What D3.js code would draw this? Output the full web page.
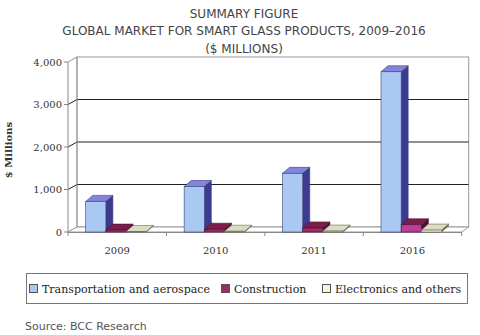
<!DOCTYPE html>
<html><head><meta charset="utf-8">
<script src="https://cdn.jsdelivr.net/npm/d3@7/dist/d3.min.js"></script>
<style>body{margin:0;background:#fff}svg{display:block}</style>
</head><body><svg id="c" width="480" height="335"></svg>
<script>
const categories = ["2009","2010","2011","2016"];
const seriesNames = ["Transportation and aerospace","Construction","Electronics and others"];
const transportation = [720, 1070, 1380, 3770];
const construction = [45, 65, 95, 170];
const electronics = [12, 18, 22, 45];
const yTicks = [0,1000,2000,3000,4000];
const titleLines = ["SUMMARY FIGURE","GLOBAL MARKET FOR SMART GLASS PRODUCTS, 2009\u20132016","($ MILLIONS)"];
const values = [transportation, construction, electronics];

const colors = [
  {front:"#a9c9f2", top:"#8484dc", side:"#3b3b92", stroke:"#3a3a7a"},
  {front:"#9b2d62", top:"#7a1f4c", side:"#4e0f2e", stroke:"#4a1030"},
  {front:"#f4f4d6", top:"#dcdcc4", side:"#6c6c48", stroke:"#6a6a50"}
];
const frontColor2016 = "#c23c9c";

const svg = d3.select("#c");
const left = 68, right = 461.7, y0 = 232;
const dx = 9, dy = -5;   // wall depth offset
const bdx = 7, bdy = -6; // bar depth offset

const y = d3.scaleLinear().domain([0,4000]).range([y0, y0 - 170]);
const x0 = d3.scaleBand().domain(categories).range([left, right]).padding(0);
const bw = x0.bandwidth();
const x1 = d3.scaleBand().domain(d3.range(3)).range([bw*0.18, bw*0.795]).padding(0);

// Title
const tg = svg.append("g").attr("font-family","DejaVu Sans, Verdana, sans-serif").attr("font-size",12).attr("fill","#444").attr("text-anchor","middle");
titleLines.forEach((t,i)=>tg.append("text").attr("x",244).attr("y",17.5+i*17.5).text(t));

// back wall
const g = svg.append("g");
const bl = left+dx, br = right+dx-2;
g.append("rect").attr("x",bl).attr("y",y(4000)+dy).attr("width",br-bl).attr("height",y(0)-y(4000))
  .attr("fill","#fff").attr("stroke","#999").attr("stroke-width",1);
yTicks.forEach(t=>{
  if(t>0 && t<4000){
    g.append("line").attr("x1",bl).attr("x2",br).attr("y1",y(t)+dy).attr("y2",y(t)+dy).attr("stroke","#222").attr("stroke-width",1);
  }
  g.append("line").attr("x1",left).attr("x2",bl).attr("y1",y(t)).attr("y2",y(t)+dy).attr("stroke",t==0||t==4000?"#999":"#222").attr("stroke-width",1);
});
// floor
g.append("path").attr("d",`M${left},${y0}L${bl},${y0+dy}L${br},${y0+dy}L${right},${y0}Z`).attr("fill","#fff").attr("stroke","#999");
g.append("line").attr("x1",bl).attr("x2",bl).attr("y1",y(4000)+dy).attr("y2",y0+dy).attr("stroke","#999");
// front axis
g.append("line").attr("x1",left).attr("x2",left).attr("y1",y(4000)).attr("y2",y0).attr("stroke","#888");
g.append("line").attr("x1",left).attr("x2",right).attr("y1",y0+0.5).attr("y2",y0+0.5).attr("stroke","#888");
// y ticks
const ya = g.append("g").attr("font-family","DejaVu Serif, Georgia, serif").attr("font-size",10).attr("fill","#333");
yTicks.forEach(t=>{
  ya.append("line").attr("x1",left-4).attr("x2",left).attr("y1",y(t)).attr("y2",y(t)).attr("stroke","#888");
  ya.append("text").attr("x",left-6).attr("y",y(t)+3.5).attr("text-anchor","end").text(d3.format(",")(t));
});
// x ticks
d3.range(categories.length+1).forEach(i=>{
  const xx = left + i*bw;
  g.append("line").attr("x1",xx).attr("x2",xx).attr("y1",y0).attr("y2",y0+4).attr("stroke","#888");
});
// x labels
categories.forEach(c=>{
  g.append("text").attr("x",x0(c)+bw/2).attr("y",y0+22).attr("text-anchor","middle")
   .attr("font-family","DejaVu Serif, Georgia, serif").attr("font-size",10).attr("fill","#333").text(c);
});

// bars
const bars = svg.append("g");
categories.forEach((c,ci)=>{
  for(let s=0;s<3;s++){
    const v = values[s][ci];
    const xl = x0(c)+x1(s), w = x1.bandwidth();
    const yt = y(v), yb = y0;
    const col = colors[s];
    const front = (s==1 && c=="2016") ? frontColor2016 : col.front;
    bars.append("path").attr("d",`M${xl+w},${yt}L${xl+w+bdx},${yt+bdy}L${xl+w+bdx},${yb+bdy}L${xl+w},${yb}Z`)
      .attr("fill",col.side).attr("stroke",col.stroke).attr("stroke-width",0.6);
    bars.append("path").attr("d",`M${xl},${yt}L${xl+bdx},${yt+bdy}L${xl+w+bdx},${yt+bdy}L${xl+w},${yt}Z`)
      .attr("fill",col.top).attr("stroke",col.stroke).attr("stroke-width",0.6);
    bars.append("rect").attr("x",xl).attr("y",yt).attr("width",w).attr("height",yb-yt)
      .attr("fill",front).attr("stroke",col.stroke).attr("stroke-width",0.6);
  }
});

// y title
svg.append("text").attr("transform","translate(12,150) rotate(-90)").attr("text-anchor","middle")
  .attr("font-family","DejaVu Serif, Georgia, serif").attr("font-size",10).attr("font-weight","bold").attr("fill","#333").text("$ Millions");

// legend
const lg = svg.append("g");
lg.append("rect").attr("x",26.5).attr("y",273.5).attr("width",441).attr("height",30).attr("fill","#fff").attr("stroke","#777");
const legX = [29, 221, 322];
seriesNames.forEach((n,i)=>{
  lg.append("rect").attr("x",legX[i]+0.5).attr("y",284.5).attr("width",8).attr("height",8)
    .attr("fill",colors[i].front).attr("stroke","#555");
  lg.append("text").attr("x",legX[i]+13).attr("y",292.5).attr("font-family","DejaVu Serif, Georgia, serif")
    .attr("font-size",11).attr("fill","#222").text(n);
});

svg.append("text").attr("x",25).attr("y",330).attr("font-family","DejaVu Sans, Verdana, sans-serif").attr("font-size",11).attr("fill","#555").text("Source: BCC Research");
</script></body></html>
